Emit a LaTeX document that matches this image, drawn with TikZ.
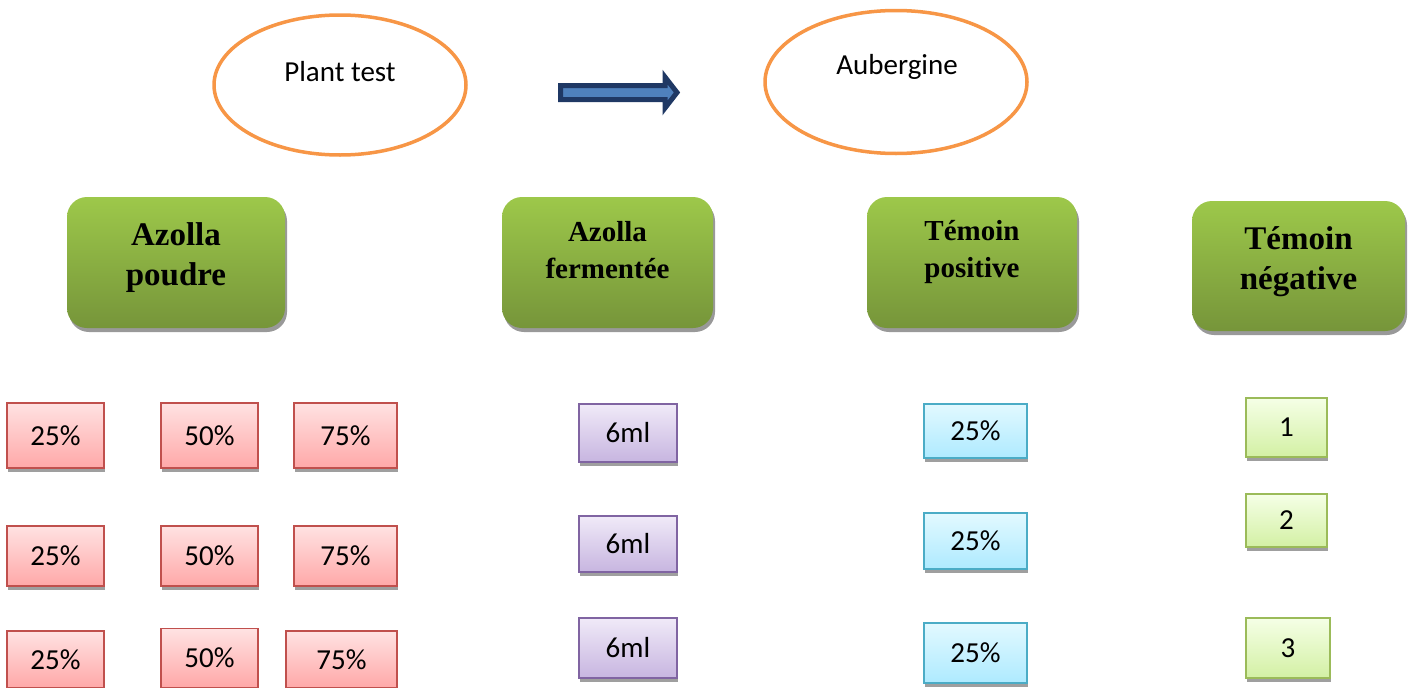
\documentclass[tikz,border=0pt]{standalone}
\usepackage{fontspec}
\setmainfont{Liberation Serif}
\newfontfamily\calib{Carlito}
\usetikzlibrary{shadows,shapes.geometric}
\definecolor{orng}{HTML}{F79646}
\definecolor{gtop}{HTML}{9DC84A}
\definecolor{gbot}{HTML}{76953A}
\definecolor{rtop}{HTML}{FFE2E2}
\definecolor{rbot}{HTML}{FFA8A8}
\definecolor{rbrd}{HTML}{C0504D}
\definecolor{ptop}{HTML}{F0EAF8}
\definecolor{pbot}{HTML}{C7B5E0}
\definecolor{pbrd}{HTML}{8064A2}
\definecolor{ctop}{HTML}{E2F9FF}
\definecolor{cbot}{HTML}{AEEAFF}
\definecolor{cbrd}{HTML}{4BACC6}
\definecolor{ltop}{HTML}{F5FFE6}
\definecolor{lbot}{HTML}{D3F0A4}
\definecolor{lbrd}{HTML}{9BBB59}
\definecolor{adark}{HTML}{1F3864}
\definecolor{alight}{HTML}{4F81BD}
\newcommand\liftedtxt[2]{\raisebox{#1}[0pt][0pt]{\begin{tabular}{@{}c@{}}#2\end{tabular}}}
\tikzset{
  oval/.style={ellipse, draw=orng, line width=3.5pt, fill=white, inner sep=0pt},
  ovaltext/.style={font=\calib\fontsize{29}{33}\selectfont},
  grp/.style={rounded corners=20pt, top color=gtop, bottom color=gbot, draw=none,
     drop shadow={shadow xshift=2pt, shadow yshift=-4pt, fill=gray!80, opacity=1},
     font=\bfseries\fontsize{29}{37}\selectfont, inner sep=0pt},
  grpbig/.style={grp, font=\bfseries\fontsize{33}{40}\selectfont},
  cell/.style={line width=1.8pt, inner sep=0pt, font=\calib\fontsize{29}{33}\selectfont,
     drop shadow={shadow xshift=0.6pt, shadow yshift=-4pt, fill=gray!75, opacity=1}},
  redc/.style={cell, draw=rbrd, top color=rtop, bottom color=rbot},
  purc/.style={cell, draw=pbrd, top color=ptop, bottom color=pbot},
  cyac/.style={cell, draw=cbrd, top color=ctop, bottom color=cbot},
  grnc/.style={cell, draw=lbrd, top color=ltop, bottom color=lbot},
}
\begin{document}
\begin{tikzpicture}[x=1pt,y=-1pt]
\useasboundingbox (0,0) rectangle (1411,688);
% ovals
\node[oval, minimum width=252pt, minimum height=140pt] (plant) at (340,85) {};
\node[ovaltext] (planttxt) at (340,72) {Plant test};
\node[oval, minimum width=262pt, minimum height=143pt] (aub) at (896,82) {};
\node[ovaltext] (aubtxt) at (897,67) {Aubergine};
% block arrow
\coordinate (arrS) at (560,92);
\coordinate (arrE) at (678,92);
\draw[adark, line width=5pt, fill=alight, line join=miter]
  (560.5,85.5) -- (665,85.5) -- (665,77) -- (677,92.5) -- (665,108) -- (665,99.5) -- (560.5,99.5) -- cycle;
% group headers
\node[grpbig, minimum width=218pt, minimum height=131pt] (ap) at (176,262.5) {\liftedtxt{-1.25pt}{Azolla\\poudre}};
\node[grp, minimum width=211pt, minimum height=131pt] (af) at (607.5,262.5) {\liftedtxt{3.75pt}{Azolla\\fermentée}};
\node[grp, minimum width=210pt, minimum height=131pt] (tp) at (972,262.5) {\liftedtxt{4.75pt}{Témoin\\positive}};
\node[grpbig, minimum width=213pt, minimum height=130pt] (tn) at (1298.5,266) {\liftedtxt{-1.25pt}{Témoin\\négative}};
% red cells
\node[redc, minimum width=97pt, minimum height=65pt] (r11) at (55.5,435.5) {25\%};
\node[redc, minimum width=97pt, minimum height=65pt] (r12) at (209.5,435.5) {50\%};
\node[redc, minimum width=103pt, minimum height=65pt] (r13) at (345.5,435.5) {75\%};
\node[redc, minimum width=97pt, minimum height=60pt] (r21) at (55.5,556) {25\%};
\node[redc, minimum width=97pt, minimum height=60pt] (r22) at (209.5,556) {50\%};
\node[redc, minimum width=103pt, minimum height=60pt] (r23) at (345.5,556) {75\%};
\node[redc, minimum width=97pt, minimum height=57pt] (r31) at (55.5,659.5) {25\%};
\node[redc, minimum width=97pt, minimum height=59pt] (r32) at (209.5,658) {50\%};
\node[redc, minimum width=111pt, minimum height=57pt] (r33) at (341.5,659.5) {75\%};
% purple cells
\node[purc, minimum width=98pt, minimum height=58pt] (p1) at (628,433) {6ml};
\node[purc, minimum width=98pt, minimum height=56pt] (p2) at (628,544) {6ml};
\node[purc, minimum width=98pt, minimum height=60pt] (p3) at (628,648) {6ml};
% cyan cells
\node[cyac, minimum width=103pt, minimum height=54pt] (c1) at (975.5,431) {25\%};
\node[cyac, minimum width=103pt, minimum height=56pt] (c2) at (975.5,541) {25\%};
\node[cyac, minimum width=103pt, minimum height=60pt] (c3) at (975.5,653) {25\%};
% light green cells
\node[grnc, minimum width=81pt, minimum height=59pt] (g1) at (1286.5,427.5) {1};
\node[grnc, minimum width=81pt, minimum height=53pt] (g2) at (1286.5,520.5) {2};
\node[grnc, minimum width=84pt, minimum height=60pt] (g3) at (1288,648) {3};
\end{tikzpicture}
\end{document}
